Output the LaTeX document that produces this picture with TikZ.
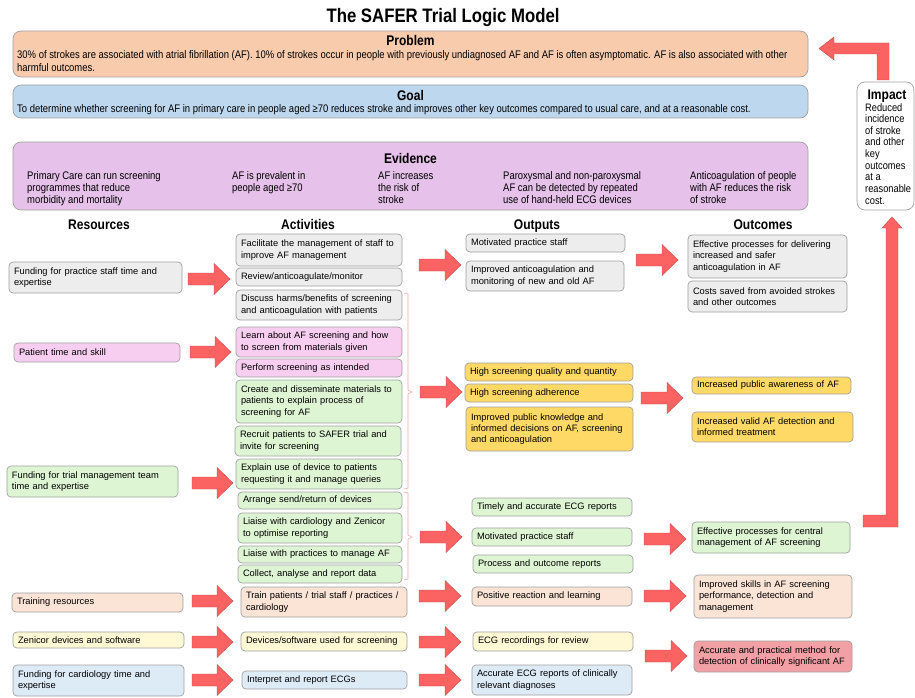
\documentclass[tikz,border=0pt]{standalone}
\usepackage{fontspec}
\setmainfont{Liberation Sans}
\newfontfamily\nar[FakeStretch=0.86]{Liberation Sans}
\definecolor{cgray}{HTML}{EDEDED}
\definecolor{cpink}{HTML}{F7CDF0}
\definecolor{cgreen}{HTML}{DDF5D3}
\definecolor{cpeach}{HTML}{FBE3D6}
\definecolor{cyel}{HTML}{FFF8D5}
\definecolor{cblue}{HTML}{DDEBF7}
\definecolor{corange}{HTML}{FFD966}
\definecolor{cred}{HTML}{F2A0A6}
\definecolor{probfill}{HTML}{F8CBAD}
\definecolor{goalfill}{HTML}{BDD7EE}
\definecolor{evfill}{HTML}{E6C1EA}
\definecolor{arrred}{HTML}{FB6262}
\definecolor{arrline}{HTML}{C84A4A}
\definecolor{brk}{HTML}{F6A5A5}
\definecolor{bord}{HTML}{A0A0A0}
\tikzset{
  box/.style={draw=bord, line width=0.7pt, rounded corners=4pt, inner xsep=5pt, inner ysep=0pt,
    align=left, font=\fontsize{9.3}{11.3}\selectfont},
  bigbox/.style={draw=bord, line width=0.7pt, rounded corners=8pt, inner sep=0pt},
  bigtitle/.style={font=\nar\bfseries\fontsize{14}{16}\selectfont, inner sep=0pt, anchor=base},
  bigtext/.style={font=\nar\fontsize{11}{13}\selectfont, inner sep=0pt, align=left, anchor=north west},
  hdr/.style={font=\nar\bfseries\fontsize{14}{16}\selectfont, inner sep=0pt, anchor=base},
  barrow/.style={fill=arrred, draw=arrline, line width=0.4pt},
  brace/.style={draw=brk, line width=0.6pt}
}
\newcommand\bx[7]{%
  \pgfmathsetmacro\bxw{#4-#2-10}%
  \pgfmathsetmacro\bxh{#5-#3}%
  \node[box, fill=#6, text width=\bxw pt, minimum height=\bxh pt] (#1) at ({(#2+#4)/2},{(#3+#5)/2}) {#7};}
\newcommand\rarr[3]{\filldraw[barrow] (#1,#3-6) -- (#2-16,#3-6) -- (#2-16,#3-15.5) -- (#2,#3) -- (#2-16,#3+15.5) -- (#2-16,#3+6) -- (#1,#3+6) -- cycle;}
\begin{document}
\begin{tikzpicture}[x=1pt, y=-1pt]
\useasboundingbox (0,0) rectangle (915,698);
\fill[white] (0,0) rectangle (915,698);
% title
\node[font=\nar\bfseries\fontsize{19.5}{22}\selectfont, inner sep=0pt, anchor=base] (title) at (443,23) {The SAFER Trial Logic Model};
% problem
\node[bigbox, fill=probfill, minimum width=795pt, minimum height=46pt] (problem) at (410.5,54) {};
\node[bigtitle] (probt) at (410.5,46) {Problem};
\node[bigtext] (probx) at (17,50) {30\% of strokes are associated with atrial fibrillation (AF). 10\% of strokes occur in people with previously undiagnosed AF and AF is often asymptomatic. AF is also associated with other\\harmful outcomes.};
% goal
\node[bigbox, fill=goalfill, minimum width=795pt, minimum height=33pt] (goal) at (410.5,101.5) {};
\node[bigtitle] (goalt) at (410.5,101) {Goal};
\node[bigtext] (goalx) at (17,104) {To determine whether screening for AF in primary care in people aged ≥70 reduces stroke and improves other key outcomes compared to usual care, and at a reasonable cost.};
% evidence
\node[bigbox, fill=evfill, minimum width=795pt, minimum height=68pt] (evidence) at (410.5,176) {};
\node[bigtitle] (evt) at (410.5,163) {Evidence};
\tikzset{evtext/.style={bigtext, font=\nar\fontsize{11}{12.2}\selectfont}}
\node[evtext] (ev1) at (27,171) {Primary Care can run screening\\programmes that reduce\\morbidity and mortality};
\node[evtext] (ev2) at (232,171) {AF is prevalent in\\people aged ≥70};
\node[evtext] (ev3) at (378,171) {AF increases\\the risk of\\stroke};
\node[evtext] (ev4) at (503,171) {Paroxysmal and non-paroxysmal\\AF can be detected by repeated\\use of hand-held ECG devices};
\node[evtext] (ev5) at (690,171) {Anticoagulation of people\\with AF reduces the risk\\of stroke};
% impact
\node[bigbox, fill=white, minimum width=57pt, minimum height=128pt] (impact) at (885.5,146) {};
\node[bigtitle] (impt) at (887,100) {Impact};
\node[bigtext, font=\nar\fontsize{10.8}{11.65}\selectfont] (impx) at (865,103) {Reduced\\incidence\\of stroke\\and other\\key\\outcomes\\at a\\reasonable\\cost.};
% headers
\node[hdr] (hres) at (99,229) {Resources};
\node[hdr] (hact) at (308,229) {Activities};
\node[hdr] (hout) at (537,229) {Outputs};
\node[hdr] (hoc) at (763,229) {Outcomes};
% resources
\bx{r1}{9}{262}{182}{293}{cgray}{Funding for practice staff time and\\expertise}
\bx{r2}{14}{343}{180}{362}{cpink}{Patient time and skill}
\bx{r3}{7}{466}{178}{497}{cgreen}{Funding for trial management team\\time and expertise}
\bx{r4}{12}{593}{183}{612}{cpeach}{Training resources}
\bx{r5}{13}{632}{184}{648}{cyel}{Zenicor devices and software}
\bx{r6}{13}{665}{184}{696}{cblue}{Funding for cardiology time and\\expertise}
% activities
\bx{a1}{236}{234}{402}{266}{cgray}{Facilitate the management of staff to\\improve AF management}
\bx{a2}{236}{268}{402}{286}{cgray}{Review/anticoagulate/monitor}
\bx{a3}{236}{290}{402}{320}{cgray}{Discuss harms/benefits of screening\\and anticoagulation with patients}
\bx{a4}{236}{327}{402}{357}{cpink}{Learn about AF screening and how\\to screen from materials given}
\bx{a5}{236}{359}{402}{377}{cpink}{Perform screening as intended}
\bx{a6}{236}{380}{402}{423}{cgreen}{Create and disseminate materials to\\patients to explain process of\\screening for AF}
\bx{a7}{235}{426}{401}{456}{cgreen}{Recruit patients to SAFER trial and\\invite for screening}
\bx{a8}{236}{459}{402}{489}{cgreen}{Explain use of device to patients\\requesting it and manage queries}
\bx{a9}{238}{492}{402}{509}{cgreen}{Arrange send/return of devices}
\bx{a10}{238}{513}{402}{543}{cgreen}{Liaise with cardiology and Zenicor\\to optimise reporting}
\bx{a11}{238}{546}{402}{563}{cgreen}{Liaise with practices to manage AF}
\bx{a12}{238}{565}{402}{583}{cgreen}{Collect, analyse and report data}
\bx{a13}{241}{587}{407}{617}{cpeach}{Train patients / trial staff / practices /\\cardiology}
\bx{a14}{241}{632}{407}{651}{cyel}{Devices/software used for screening}
\bx{a15}{242}{671}{407}{689}{cblue}{Interpret and report ECGs}
% outputs
\bx{o1}{466}{234}{625}{252}{cgray}{Motivated practice staff}
\bx{o2}{466}{261}{624}{291}{cgray}{Improved anticoagulation and\\monitoring of new and old AF}
\bx{o3}{465}{363}{633}{381}{corange}{High screening quality and quantity}
\bx{o4}{465}{384}{633}{402}{corange}{High screening adherence}
\bx{o5}{466}{407}{633}{451}{corange}{Improved public knowledge and\\informed decisions on AF, screening\\and anticoagulation}
\bx{o6}{472}{498}{632}{516}{cgreen}{Timely and accurate ECG reports}
\bx{o7}{472}{528}{632}{546}{cgreen}{Motivated practice staff}
\bx{o8}{473}{555}{633}{573}{cgreen}{Process and outcome reports}
\bx{o9}{472}{587}{632}{606}{cpeach}{Positive reaction and learning}
\bx{o10}{473}{632}{633}{651}{cyel}{ECG recordings for review}
\bx{o11}{472}{665}{632}{695}{cblue}{Accurate ECG reports of clinically\\relevant diagnoses}
% outcomes
\bx{c1}{688}{235}{847}{278}{cgray}{Effective processes for delivering\\increased and safer\\anticoagulation in AF}
\bx{c2}{688}{281}{847}{312}{cgray}{Costs saved from avoided strokes\\and other outcomes}
\bx{c3}{692}{377}{851}{394}{corange}{Increased public awareness of AF}
\bx{c4}{692}{412}{853}{442}{corange}{Increased valid AF detection and\\informed treatment}
\bx{c5}{692}{522}{850}{553}{cgreen}{Effective processes for central\\management of AF screening}
\bx{c6}{694}{575}{852}{618}{cpeach}{Improved skills in AF screening\\performance, detection and\\management}
\bx{c7}{694}{641}{852}{672}{cred}{Accurate and practical method for\\detection of clinically significant AF}
% braces
\draw[brace] (404,293) -- (408,294) -- (408,390) -- (412,392) -- (408,394) -- (408,488) -- (404,489);
\draw[brace] (404,492) -- (408,493) -- (408,535) -- (412,537) -- (408,539) -- (408,579) -- (404,580);
% arrows resources -> activities
\rarr{188}{230}{279}
\rarr{190}{231}{352}
\rarr{192}{233}{483}
\rarr{192}{233}{601}
\rarr{192}{233}{642}
\rarr{192}{233}{680}
% arrows activities -> outputs
\rarr{419}{461}{265}
\rarr{420}{462}{392}
\rarr{420}{462}{537}
\rarr{419}{461}{596}
\rarr{419}{461}{642}
\rarr{419}{461}{680}
% arrows outputs -> outcomes
\rarr{636}{678}{260}
\rarr{641}{683}{398}
\rarr{644}{686}{539}
\rarr{644}{686}{596}
\rarr{645}{687}{656}
% elbow arrows
\filldraw[barrow] (819,48.5) -- (834,37) -- (834,43) -- (889,43) -- (889,80) -- (877,80) -- (877,54) -- (834,54) -- (834,60) -- cycle;
\filldraw[barrow] (863,515) -- (886,515) -- (886,228) -- (882,228) -- (892,217) -- (902,228) -- (898,228) -- (898,527) -- (863,527) -- cycle;
\end{tikzpicture}
\end{document}
